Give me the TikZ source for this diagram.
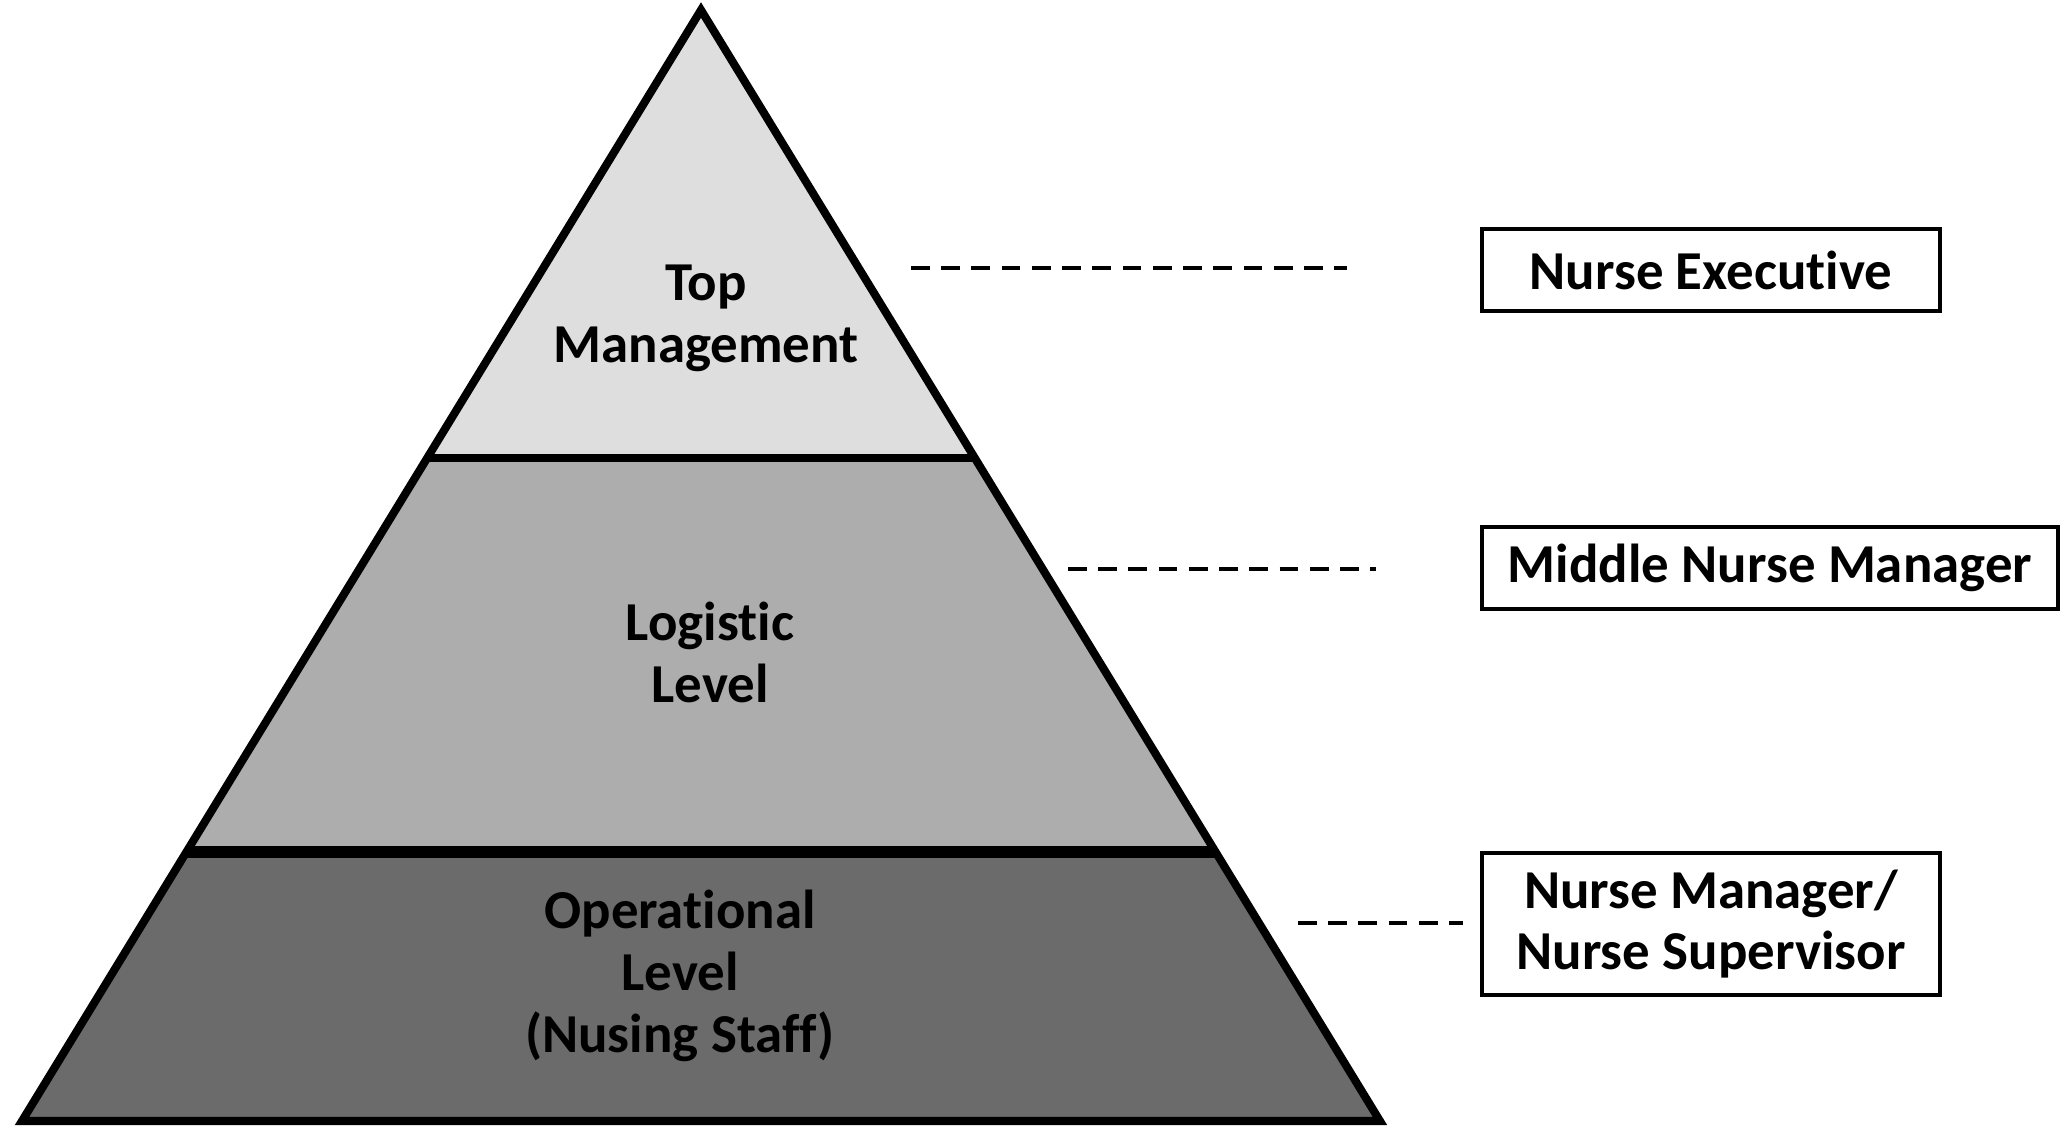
\documentclass[tikz,border=0pt]{standalone}
\usepackage{fontspec}
\setmainfont{Carlito}[Ligatures=NoCommon]
\usetikzlibrary{calc}
\definecolor{topgray}{gray}{0.87}
\definecolor{midgray}{gray}{0.68}
\definecolor{lowgray}{gray}{0.42}
\tikzset{%
	tier label/.style={
		font=\bfseries\fontsize{15.6}{17.6}\selectfont,
		align=center,
		inner sep=0pt
	},
	role box/.style={
		draw,
		line width=1.1pt,
		font=\bfseries\fontsize{15.6}{17.3}\selectfont,
		align=center,
		minimum width=130.4pt
	},
	leader/.style={
		line width=1pt,
		dash pattern=on 5.3pt off 3.3pt
	},
}
\begin{document}
\begin{tikzpicture}[x=0.01cm, y=-0.01cm]
	\useasboundingbox (0,0) rectangle (2062,1129);
	\coordinate (apex) at (701,10);
	\coordinate (bl) at (22,1121);
	\coordinate (br) at (1380,1121);
	\coordinate (ml) at ($(apex)!0.4032!(bl)$);
	\coordinate (mr) at ($(apex)!0.4032!(br)$);
	\coordinate (ll) at ($(apex)!0.7579!(bl)$);
	\coordinate (lr) at ($(apex)!0.7579!(br)$);
	
	% pyramid
	\fill[topgray] (apex) -- (mr) -- (ml) -- cycle;
	\fill[midgray] (ml) -- (mr) -- (lr) -- (ll) -- cycle;
	\fill[lowgray] (ll) -- (lr) -- (br) -- (bl) -- cycle;
	\draw[line width=2.3pt] (apex) -- (br) -- (bl) -- cycle;
	\draw[line width=2.5pt] (ml) -- (mr);
	\draw[line width=3.4pt] (ll) -- (lr);
	
	\node[tier label] (top) at (706,318) {Top\\Management};
	\node[tier label] (logistic) at (710,652) {Logistic\\Level};
	\node[tier label] (operational) at (680,976) {Operational\\Level\\(Nusing Staff)};
	
	% roles
	\node[role box, minimum height=23.2pt] (executive) at (1711,270) {Nurse Executive};
	\node[role box, minimum width=164pt, minimum height=23.2pt] (middle) at (1770,568) {Middle Nurse Manager};
	\node[role box, minimum height=40.5pt] (supervisor) at (1711,924) {Nurse Manager/\\Nurse Supervisor};
	
	\coordinate (lead1) at (911,268);
	\coordinate (lead2) at (1068,569);
	\coordinate (lead3) at (1298,923);
	\draw[leader, shorten >=37.7pt] (lead1) -- (lead1 -| executive.west);
	\draw[leader, shorten >=29.5pt] (lead2) -- (lead2 -| middle.west);
	\draw[leader, shorten >=4.8pt] (lead3) -- (lead3 -| supervisor.west);
\end{tikzpicture}
\end{document}
